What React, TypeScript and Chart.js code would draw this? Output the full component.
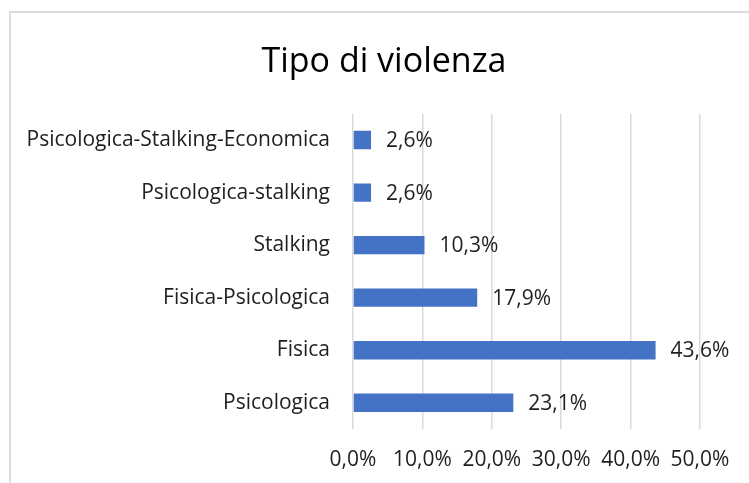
import React, { useEffect, useRef } from 'react';
import { Chart, registerables } from 'chart.js';

Chart.register(...registerables);

const title = 'Tipo di violenza';
const categories = [
  'Psicologica-Stalking-Economica',
  'Psicologica-stalking',
  'Stalking',
  'Fisica-Psicologica',
  'Fisica',
  'Psicologica',
];
const values = [2.6, 2.6, 10.3, 17.9, 43.6, 23.1];
const axisMin = 0;
const axisMax = 50;
const axisStep = 10;

const W = 749;
const H = 483;
const FONT = "'Open Sans', sans-serif";
const TEXT = '#1f1f1f';
const FS = 21;

const fmt = (v: number) => v.toFixed(1).replace('.', ',') + '%';

const valueLabels = {
  id: 'valueLabels',
  afterDatasetsDraw(chart: any) {
    const ctx = chart.ctx;
    const meta = chart.getDatasetMeta(0);
    ctx.save();
    ctx.font = `${FS}px ${FONT}`;
    ctx.fillStyle = TEXT;
    ctx.textAlign = 'left';
    ctx.textBaseline = 'middle';
    meta.data.forEach((bar: any, i: number) => {
      const v = chart.data.datasets[0].data[i] as number;
      ctx.fillText(fmt(v), bar.x + 15, bar.y + 1);
    });
    ctx.restore();
  },
};

export default function App() {
  const ref = useRef<HTMLCanvasElement | null>(null);
  useEffect(() => {
    if (!ref.current) return;
    const chart = new Chart(ref.current, {
      type: 'bar',
      data: {
        labels: categories,
        datasets: [
          {
            data: values,
            backgroundColor: '#4472C4',
            borderWidth: 0,
            categoryPercentage: 1,
            barPercentage: 0.35,
          },
        ],
      },
      options: {
        indexAxis: 'y',
        responsive: false,
        animation: false,
        layout: { padding: { left: 19, right: 0, top: 0, bottom: 0 } },
        plugins: {
          legend: { display: false },
          tooltip: { enabled: false },
          title: {
            display: true,
            text: title,
            color: '#000',
            font: { family: FONT, size: 34, weight: 'normal' as any, lineHeight: 1.2 },
            padding: { top: 42, bottom: 31 },
          },
        },
        scales: {
          x: {
            min: axisMin,
            max: axisMax,
            ticks: {
              stepSize: axisStep,
              color: TEXT,
              padding: 18,
              font: { family: FONT, size: FS },
              callback: (v: any) => fmt(Number(v)),
            },
            grid: { color: '#d9d9d9', lineWidth: 1.5, drawTicks: false },
            border: { display: false },
            afterFit: (s: any) => {
              s.height = 54;
            },
          },
          y: {
            ticks: {
              color: TEXT,
              padding: 23,
              font: { family: FONT, size: FS },
            },
            grid: { display: false, drawTicks: false },
            border: { display: false },
            afterFit: (s: any) => {
              s.width = 334;
            },
          },
          yRight: {
            type: 'category',
            position: 'right',
            display: true,
            ticks: { display: false },
            grid: { display: false, drawTicks: false },
            border: { display: false },
            afterFit: (s: any) => {
              s.width = 49;
            },
          },
        },
      },
      plugins: [valueLabels],
    });
    return () => chart.destroy();
  }, []);

  return (
    <div
      style={{
        position: 'fixed',
        left: 0,
        top: 0,
        width: W,
        height: H,
        overflow: 'hidden',
        background: '#fff',
      }}
    >
      <div
        style={{
          position: 'absolute',
          left: 9,
          top: 11,
          width: 800,
          height: 600,
          border: '2px solid #dcdcdc',
          boxSizing: 'border-box',
        }}
      />
      <canvas
        ref={ref}
        width={W}
        height={H}
        style={{ position: 'absolute', left: 0, top: 0, width: W, height: H }}
      />
    </div>
  );
}
